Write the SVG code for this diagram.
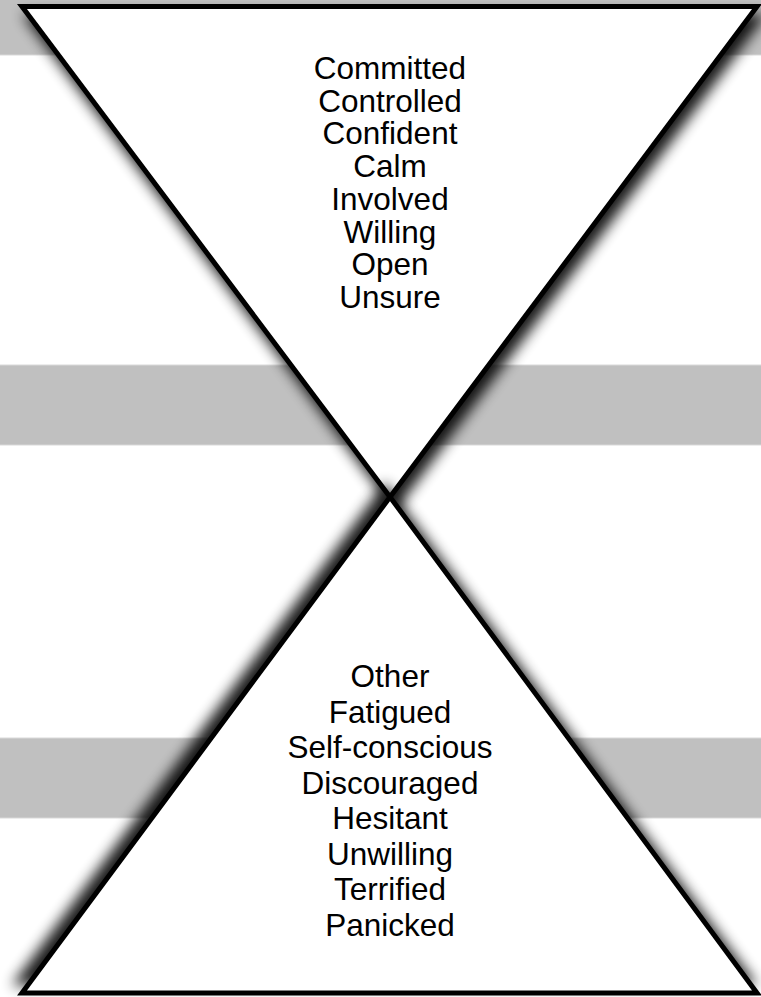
<svg xmlns="http://www.w3.org/2000/svg" width="761" height="997" viewBox="0 0 761 997">
<defs>
<style>
.band{fill:#c0c0c0;stroke:#d9d9d9;stroke-width:1}
.tri{fill:#ffffff;stroke:#000000;stroke-width:5;stroke-linejoin:miter}
.lbl{font-family:"Liberation Sans",Arial,Helvetica,sans-serif;font-size:31.5px;fill:#000000;text-anchor:middle}
</style>
<filter id="shTop" x="-20%" y="-20%" width="140%" height="140%">
<feGaussianBlur in="SourceAlpha" stdDeviation="7"/>
<feOffset dx="5" dy="10" result="b"/>
<feComponentTransfer><feFuncA type="linear" slope="0.9"/></feComponentTransfer>
<feMerge><feMergeNode/><feMergeNode in="SourceGraphic"/></feMerge>
</filter>
<filter id="shBot" x="-20%" y="-20%" width="140%" height="140%">
<feGaussianBlur in="SourceAlpha" stdDeviation="7"/>
<feOffset dx="-5" dy="-10" result="b"/>
<feComponentTransfer><feFuncA type="linear" slope="0.9"/></feComponentTransfer>
<feMerge><feMergeNode/><feMergeNode in="SourceGraphic"/></feMerge>
</filter>
</defs>
<rect width="761" height="997" fill="#ffffff"/>
<g id="bands">
<rect class="band" x="-2" y="-2" width="765" height="57"/>
<rect class="band" x="-2" y="365" width="765" height="80"/>
<rect class="band" x="-2" y="738" width="765" height="80"/>
</g>
<g id="connectors"></g>
<g id="top-triangle">
<polygon class="tri" points="22,6.5 757,6.5 390,497" filter="url(#shTop)"/>
<text class="lbl" x="390" y="79">Committed</text>
<text class="lbl" x="390" y="111.7">Controlled</text>
<text class="lbl" x="390" y="144.4">Confident</text>
<text class="lbl" x="390" y="177.1">Calm</text>
<text class="lbl" x="390" y="209.8">Involved</text>
<text class="lbl" x="390" y="242.5">Willing</text>
<text class="lbl" x="390" y="275.2">Open</text>
<text class="lbl" x="390" y="307.9">Unsure</text>
</g>
<g id="bottom-triangle">
<polygon class="tri" points="390,497 757,993 22,993" filter="url(#shBot)"/>
<text class="lbl" x="390" y="687">Other</text>
<text class="lbl" x="390" y="722.5">Fatigued</text>
<text class="lbl" x="390" y="758">Self-conscious</text>
<text class="lbl" x="390" y="793.5">Discouraged</text>
<text class="lbl" x="390" y="829">Hesitant</text>
<text class="lbl" x="390" y="864.5">Unwilling</text>
<text class="lbl" x="390" y="900">Terrified</text>
<text class="lbl" x="390" y="935.5">Panicked</text>
</g>
</svg>
